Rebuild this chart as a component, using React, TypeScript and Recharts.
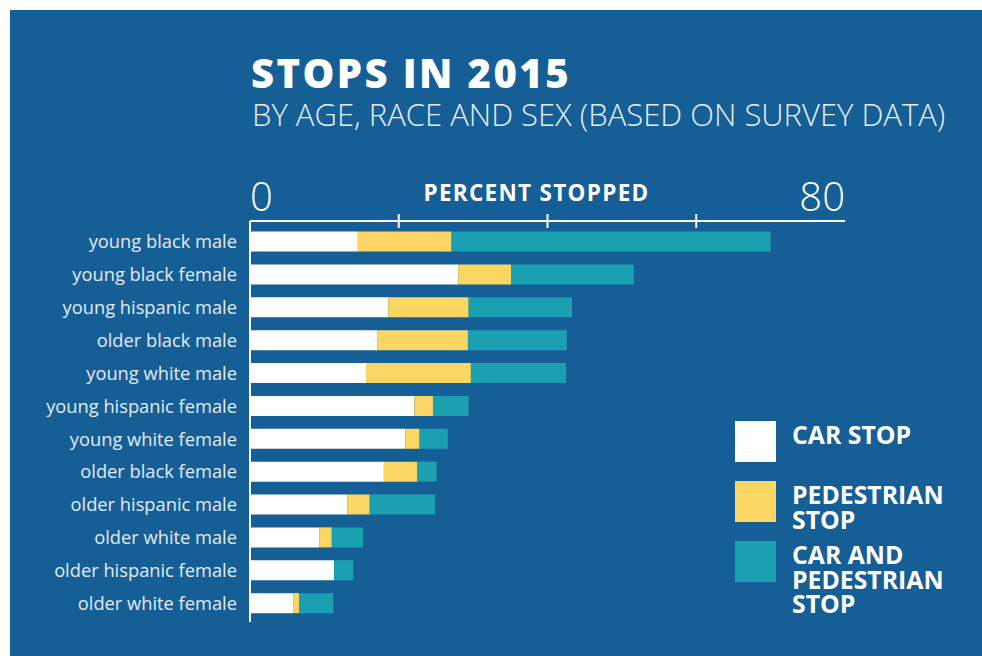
import { BarChart, Bar, XAxis, YAxis, Legend } from 'recharts';

// Stops in 2015, percent of each group
const categories = [
  'young black male',
  'young black female',
  'young hispanic male',
  'older black male',
  'young white male',
  'young hispanic female',
  'young white female',
  'older black female',
  'older hispanic male',
  'older white male',
  'older hispanic female',
  'older white female',
];
const carStop = [14.5, 28.0, 18.6, 17.1, 15.6, 22.1, 20.9, 18.0, 13.1, 9.3, 11.3, 5.8];
const pedestrianStop = [12.6, 7.1, 10.8, 12.2, 14.1, 2.5, 1.9, 4.5, 3.0, 1.7, 0, 0.8];
const carAndPedestrianStop = [42.9, 16.5, 13.9, 13.3, 12.8, 4.8, 3.8, 2.6, 8.8, 4.2, 2.6, 4.6];

const seriesNames = ['CAR STOP', 'PEDESTRIAN STOP', 'CAR AND PEDESTRIAN STOP'];
const axisTicks = [0, 20, 40, 60, 80];
const labelledTicks = [0, 80];

const data = categories.map((name, i) => ({
  name,
  car: carStop[i],
  pedestrian: pedestrianStop[i],
  both: carAndPedestrianStop[i],
}));

const BLUE = '#155e96';
const FONT = '"Open Sans", sans-serif';

const XTick = ({ x, y, payload }: any) => {
  const v = payload.value;
  if (labelledTicks.includes(v)) {
    return (
      <text
        x={x}
        y={y - 10}
        textAnchor={v === 0 ? 'start' : 'end'}
        fill="#fff"
        fontSize={40}
        fontWeight={300}
        fontFamily={FONT}
      >
        {v}
      </text>
    );
  }
  return <line x1={x} x2={x} y1={y - 7} y2={y + 7} stroke="#fff" strokeWidth={2} />;
};

const YTick = ({ x, y, payload }: any) => (
  <text
    x={x - 13}
    y={y}
    dy="0.35em"
    textAnchor="end"
    fill="#e3ebf3"
    fontSize={18.3}
    fontFamily={FONT}
  >
    {payload.value}
  </text>
);

// keep the legend in series order (recharts sorts by name otherwise)
const LegendContent = ({ payload }: any) => {
  const items = [...(payload || [])].sort(
    (a: any, b: any) => seriesNames.indexOf(a.value) - seriesNames.indexOf(b.value)
  );
  return (
    <div style={{ fontFamily: FONT }}>
      {items.map((entry: any) => (
        <div key={entry.value} style={{ display: 'flex', height: 60 }}>
          <div style={{ width: 41, height: 41, background: entry.color, flexShrink: 0 }} />
          <div
            style={{
              marginLeft: 16,
              width: 175,
              color: '#fff',
              fontSize: 24.8,
              fontWeight: 700,
              lineHeight: '24.5px',
              paddingTop: 1,
            }}
          >
            {entry.value}
          </div>
        </div>
      ))}
    </div>
  );
};

export default function App() {
  return (
    <div
      style={{
        position: 'absolute',
        left: 10,
        top: 10,
        width: 972,
        height: 646,
        background: BLUE,
        fontFamily: FONT,
        overflow: 'hidden',
      }}
    >
      <div
        style={{
          position: 'absolute',
          left: 241,
          top: 43,
          fontSize: 40,
          lineHeight: 1,
          fontWeight: 800,
          color: '#fff',
          whiteSpace: 'nowrap',
          letterSpacing: 2.4,
        }}
      >
        STOPS IN 2015
      </div>
      <div
        style={{
          position: 'absolute',
          left: 242,
          top: 89.2,
          fontSize: 31,
          lineHeight: 1,
          fontWeight: 300,
          color: '#e8eef5',
          whiteSpace: 'nowrap',
        }}
      >
        BY AGE, RACE AND SEX (BASED ON SURVEY DATA)
      </div>
      <div
        style={{
          position: 'absolute',
          left: 376.5,
          width: 300,
          top: 172,
          textAlign: 'center',
          fontSize: 22.5,
          lineHeight: 1,
          fontWeight: 700,
          letterSpacing: 1.3,
          color: '#fff',
        }}
      >
        PERCENT STOPPED
      </div>
      <div style={{ position: 'absolute', left: 0, top: 0 }}>
        <BarChart
          width={972}
          height={646}
          data={data}
          layout="vertical"
          margin={{ top: 171, right: 137, bottom: 34, left: 0 }}
        >
          <XAxis
            type="number"
            orientation="top"
            domain={[0, 80]}
            ticks={axisTicks}
            height={40}
            tickSize={0}
            tickMargin={0}
            tickLine={false}
            axisLine={{ stroke: '#fff', strokeWidth: 2 }}
            tick={<XTick />}
            interval={0}
          />
          <YAxis
            type="category"
            dataKey="name"
            width={240}
            tickSize={0}
            tickMargin={0}
            tickLine={false}
            axisLine={{ stroke: '#fff', strokeWidth: 2 }}
            tick={<YTick />}
            interval={0}
            padding={{ top: 4.5, bottom: 2 }}
          />
          <Legend
            layout="vertical"
            align="center"
            verticalAlign="middle"
            wrapperStyle={{ left: 725, top: 411, width: 250 }}
            content={<LegendContent />}
          />
          <Bar dataKey="car" name={seriesNames[0]} stackId="s" fill="#ffffff" barSize={20} isAnimationActive={false} />
          <Bar dataKey="pedestrian" name={seriesNames[1]} stackId="s" fill="#fcd662" barSize={20} isAnimationActive={false} />
          <Bar dataKey="both" name={seriesNames[2]} stackId="s" fill="#1ba0b1" barSize={20} isAnimationActive={false} />
        </BarChart>
      </div>
    </div>
  );
}
